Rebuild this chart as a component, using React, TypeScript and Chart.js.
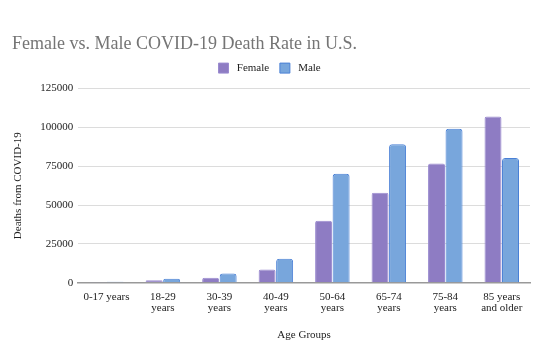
import React, { useEffect, useRef } from "react";
import { Chart, registerables } from "chart.js";

Chart.register(...registerables);

const ageGroups: (string | string[])[] = [
  "0-17 years",
  ["18-29", "years"],
  ["30-39", "years"],
  ["40-49", "years"],
  ["50-64", "years"],
  ["65-74", "years"],
  ["75-84", "years"],
  ["85 years", "and older"],
];

const femaleDeaths = [250, 1700, 3200, 8600, 40000, 58000, 76800, 107000];
const maleDeaths = [700, 2600, 6000, 15500, 70200, 89200, 99200, 80300];

const yTicks = [0, 25000, 50000, 75000, 100000, 125000];

const SERIF = "'Liberation Serif', 'Times New Roman', serif";

Chart.defaults.font.family = SERIF;
Chart.defaults.color = "#222";

// Extra room between the legend row and the plot area
const legendSpacing = {
  id: "legendSpacing",
  beforeInit(chart: any) {
    const originalFit = chart.legend.fit;
    chart.legend.fit = function fit() {
      originalFit.bind(chart.legend)();
      this.height += 5;
    };
  },
};

export default function App() {
  const canvasRef = useRef<HTMLCanvasElement | null>(null);

  useEffect(() => {
    if (!canvasRef.current) return;
    const chart = new Chart(canvasRef.current, {
      type: "bar",
      data: {
        labels: ageGroups,
        datasets: [
          {
            label: "Female",
            data: femaleDeaths,
            backgroundColor: "#8e7cc3",
            borderColor: "#9b8bd0",
            borderWidth: 1,
            borderSkipped: "bottom",
            borderRadius: { topLeft: 2, topRight: 2 },
            categoryPercentage: 0.62,
            barPercentage: 0.97,
          },
          {
            label: "Male",
            data: maleDeaths,
            backgroundColor: "#78a6dc",
            borderColor: "#4a80d6",
            borderWidth: 1,
            borderSkipped: "bottom",
            borderRadius: { topLeft: 3, topRight: 3 },
            categoryPercentage: 0.62,
            barPercentage: 0.97,
          },
        ],
      },
      plugins: [legendSpacing],
      options: {
        animation: false,
        responsive: true,
        maintainAspectRatio: false,
        layout: { padding: { left: 12, right: 3, top: 33, bottom: 7 } },
        plugins: {
          title: {
            display: true,
            text: "Female vs. Male COVID-19 Death Rate in U.S.",
            align: "start",
            color: "#757575",
            font: { family: SERIF, size: 18, weight: "normal" },
            padding: { top: 0, bottom: 0 },
          },
          legend: {
            display: true,
            position: "top",
            labels: {
              color: "#222",
              font: { family: SERIF, size: 11 },
              boxWidth: 10,
              boxHeight: 10,
              padding: 8,
              generateLabels: (c: any) =>
                Chart.defaults.plugins.legend.labels
                  .generateLabels(c)
                  .map((l: any) => ({ ...l, text: " " + l.text + " " })),
            },
          },
          tooltip: { enabled: false },
        },
        scales: {
          x: {
            grid: { display: false },
            border: { color: "#999", width: 1.5 },
            ticks: {
              color: "#222",
              font: { family: SERIF, size: 11, lineHeight: 1.0 },
              maxRotation: 0,
              autoSkip: false,
              padding: 1,
            },
            title: {
              display: true,
              text: "Age Groups",
              color: "#222",
              font: { family: SERIF, size: 11 },
              padding: { top: 14, bottom: 0 },
            },
          },
          y: {
            min: 0,
            max: 125000,
            afterBuildTicks: (axis: any) => {
              axis.ticks = yTicks.map((v) => ({ value: v }));
            },
            grid: { color: "#dcdcdc", drawTicks: false },
            border: { display: false },
            ticks: {
              color: "#222",
              font: { family: SERIF, size: 11 },
              padding: 5,
              callback: (v: any) => String(v),
            },
            title: {
              display: true,
              text: "Deaths from COVID-19",
              color: "#222",
              font: { family: SERIF, size: 11 },
              padding: { top: 0, bottom: 10 },
            },
          },
        },
      },
    });
    return () => chart.destroy();
  }, []);

  return (
    <div
      style={{
        position: "fixed",
        left: 0,
        top: 0,
        width: 533,
        height: 349,
        background: "#fff",
      }}
    >
      <canvas ref={canvasRef} />
    </div>
  );
}
